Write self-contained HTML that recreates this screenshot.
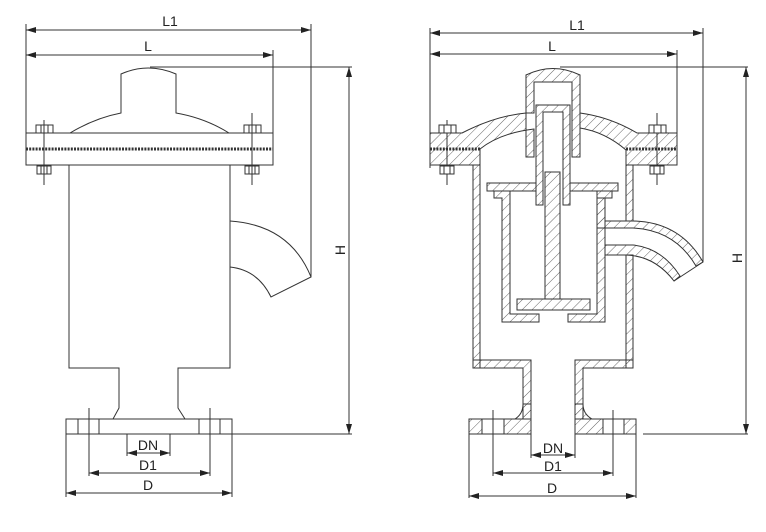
<!DOCTYPE html>
<html><head><meta charset="utf-8"><style>
html,body{margin:0;padding:0;background:#fff;}
svg{display:block;}
text{font-family:"Liberation Sans",sans-serif;font-size:14px;fill:#222;}
</style></head><body>
<svg width="766" height="532" viewBox="0 0 766 532" xmlns="http://www.w3.org/2000/svg">
<defs>
<pattern id="h" width="7" height="7" patternUnits="userSpaceOnUse" patternTransform="rotate(45)">
<line x1="0" y1="0" x2="0" y2="7" stroke="#555" stroke-width="0.9"/>
</pattern>
<marker id="a" viewBox="0 0 10 6" refX="10" refY="3" markerWidth="10" markerHeight="6" orient="auto-start-reverse" markerUnits="userSpaceOnUse">
<path d="M0,0 L10,3 L0,6 Z" fill="#222"/>
</marker>
</defs>
<g stroke="#333" stroke-width="1" fill="none">
<line x1="26" y1="30" x2="311" y2="30" marker-start="url(#a)" marker-end="url(#a)"/>
<line x1="26" y1="55" x2="273" y2="55" marker-start="url(#a)" marker-end="url(#a)"/>
<line x1="26" y1="24" x2="26" y2="135"/>
<line x1="311" y1="24" x2="311" y2="277"/>
<line x1="273" y1="50" x2="273" y2="135"/>
<line x1="150" y1="67" x2="352" y2="67"/>
<line x1="232" y1="434" x2="352" y2="434"/>
<line x1="349" y1="67" x2="349" y2="434" marker-start="url(#a)" marker-end="url(#a)"/>
<path d="M70,133 Q95,118 121,113 L121,74 Q148,62 176,74 L176,113 Q205,118 229,133"/>
<rect x="26" y="133" width="247" height="32"/>
<line x1="26" y1="149" x2="273" y2="149" stroke="#333" stroke-width="3" stroke-dasharray="2,1.2"/>
<line x1="44" y1="120" x2="44" y2="185"/>
<rect x="36" y="125" width="17" height="8"/><line x1="41" y1="125" x2="41" y2="133"/><line x1="48" y1="125" x2="48" y2="133"/>
<rect x="37" y="166" width="14" height="8"/><line x1="41" y1="166" x2="41" y2="174"/><line x1="47" y1="166" x2="47" y2="174"/>
<line x1="252" y1="113" x2="252" y2="185"/>
<rect x="244" y="125" width="17" height="8"/><line x1="249" y1="125" x2="249" y2="133"/><line x1="256" y1="125" x2="256" y2="133"/>
<rect x="245" y="166" width="14" height="8"/><line x1="249" y1="166" x2="249" y2="174"/><line x1="255" y1="166" x2="255" y2="174"/>
<path d="M69,165 L69,368 L119,368 L119,408 L113,419"/>
<path d="M230,165 L230,368 L178,368 L178,408 L185,419"/>
<path d="M230,221 Q290,225 311,277 L271,297 Q258,270 230,267"/>
<rect x="66" y="419" width="166" height="15"/>
<line x1="78" y1="419" x2="78" y2="434"/><line x1="99" y1="419" x2="99" y2="434"/>
<line x1="199" y1="419" x2="199" y2="434"/><line x1="220" y1="419" x2="220" y2="434"/>
<line x1="89" y1="408" x2="89" y2="476"/><line x1="210" y1="408" x2="210" y2="476"/>
<line x1="66" y1="434" x2="66" y2="497"/><line x1="232" y1="434" x2="232" y2="497"/>
<line x1="127" y1="434" x2="127" y2="456"/><line x1="170" y1="434" x2="170" y2="456"/>
<line x1="127" y1="453" x2="170" y2="453" marker-start="url(#a)" marker-end="url(#a)"/>
<line x1="89" y1="473" x2="210" y2="473" marker-start="url(#a)" marker-end="url(#a)"/>
<line x1="66" y1="493" x2="232" y2="493" marker-start="url(#a)" marker-end="url(#a)"/>

<line x1="430" y1="33" x2="703" y2="33" marker-start="url(#a)" marker-end="url(#a)"/>
<line x1="430" y1="54" x2="677" y2="54" marker-start="url(#a)" marker-end="url(#a)"/>
<line x1="430" y1="28" x2="430" y2="168"/>
<line x1="703" y1="28" x2="703" y2="262"/>
<line x1="677" y1="50" x2="677" y2="133"/>
<line x1="560" y1="67" x2="748" y2="67"/>
<line x1="643" y1="434" x2="748" y2="434"/>
<line x1="746" y1="67" x2="746" y2="434" marker-start="url(#a)" marker-end="url(#a)"/>
<!-- base flange outline -->
<path d="M531,419 L469,419 L469,434 L531,434"/>
<path d="M575,419 L636,419 L636,434 L575,434"/>
</g>

<g stroke="#333" stroke-width="1" fill="url(#h)">
<path d="M430,133 L462,133 Q495,116 526,113 L526,157 L534,157 L534,129 Q500,133 480,149 L480,165 L430,165 Z"/>
<path d="M526,113 L526,75 Q553,62 580,75 L580,157 L572,157 L572,82 L534,82 L534,113 Z"/>
<path d="M580,113 Q610,117 637,133 L677,133 L677,165 L633,165 L626,165 L626,150 Q605,132 580,128 Z"/>
<rect x="473" y="165" width="7" height="203"/>
<rect x="626" y="165" width="7" height="56"/>
<rect x="626" y="255" width="7" height="113"/>
<path d="M473,360 L531,360 L531,419 L523,419 L523,368 L473,368 Z"/>
<path d="M575,360 L633,360 L633,368 L583,368 L583,419 L575,419 Z"/>
<rect x="469" y="419" width="13" height="15"/>
<path d="M504,419 L515,419 Q523,414 523,404 L531,404 L531,434 L504,434 Z"/>
<path d="M575,404 L583,404 Q583,414 592,419 L603,419 L603,434 L575,434 Z"/>
<rect x="624" y="419" width="12" height="15"/>
<path d="M536,105 L570,105 L570,205 L563,205 L563,112 L543,112 L543,205 L536,205 Z"/>
<rect x="487" y="183" width="49" height="8"/>
<rect x="570" y="183" width="48" height="8"/>
<path d="M494,191 L510,191 L510,314 L539,314 L539,322 L502,322 L502,198 L494,198 Z"/>
<path d="M597,191 L612,191 L612,198 L605,198 L605,322 L568,322 L568,314 L597,314 Z"/>
<rect x="545" y="172" width="15" height="127"/>
<rect x="517" y="299" width="73" height="11"/>
<path d="M605,221 L633,221 Q680,222 703,262 L696,266 Q675,230 633,228 L605,228 Z"/>
<path d="M605,245 L633,245 Q662,248 680,276 L674,281 Q655,256 626,255 L605,255 Z"/>
<rect x="597" y="198" width="8" height="30"/>
</g>
<g stroke="#333" stroke-width="1" fill="none">
<line x1="430" y1="149" x2="480" y2="149" stroke-width="3" stroke-dasharray="2,1.2"/>
<line x1="626" y1="149" x2="677" y2="149" stroke-width="3" stroke-dasharray="2,1.2"/>
<line x1="447" y1="120" x2="447" y2="185"/>
<rect x="439" y="125" width="17" height="8" fill="#fff"/><line x1="444" y1="125" x2="444" y2="133"/><line x1="451" y1="125" x2="451" y2="133"/>
<rect x="440" y="166" width="14" height="8" fill="#fff"/><line x1="444" y1="166" x2="444" y2="174"/><line x1="450" y1="166" x2="450" y2="174"/>
<line x1="657" y1="113" x2="657" y2="185"/>
<rect x="649" y="125" width="17" height="8" fill="#fff"/><line x1="654" y1="125" x2="654" y2="133"/><line x1="661" y1="125" x2="661" y2="133"/>
<rect x="650" y="166" width="14" height="8" fill="#fff"/><line x1="654" y1="166" x2="654" y2="174"/><line x1="660" y1="166" x2="660" y2="174"/>
<line x1="703" y1="262" x2="674" y2="281"/>
<line x1="531" y1="434" x2="531" y2="458"/><line x1="575" y1="434" x2="575" y2="458"/>
<line x1="531" y1="455" x2="575" y2="455" marker-start="url(#a)" marker-end="url(#a)"/>
<line x1="493" y1="410" x2="493" y2="476"/><line x1="613" y1="410" x2="613" y2="476"/>
<line x1="493" y1="473" x2="613" y2="473" marker-start="url(#a)" marker-end="url(#a)"/>
<line x1="469" y1="434" x2="469" y2="498"/><line x1="636" y1="434" x2="636" y2="498"/>
<line x1="469" y1="496" x2="636" y2="496" marker-start="url(#a)" marker-end="url(#a)"/>
</g>

<text x="170" y="26" text-anchor="middle">L1</text>
<text x="148" y="51" text-anchor="middle">L</text>
<text x="148" y="450" text-anchor="middle">DN</text>
<text x="148" y="470" text-anchor="middle">D1</text>
<text x="148" y="490" text-anchor="middle">D</text>
<text transform="translate(345,250) rotate(-90)" text-anchor="middle">H</text>
<text x="577" y="30" text-anchor="middle">L1</text>
<text x="552" y="51" text-anchor="middle">L</text>
<text x="553" y="453" text-anchor="middle">DN</text>
<text x="553" y="471" text-anchor="middle">D1</text>
<text x="552" y="493" text-anchor="middle">D</text>
<text transform="translate(742,258) rotate(-90)" text-anchor="middle">H</text>
</svg>
</body></html>
